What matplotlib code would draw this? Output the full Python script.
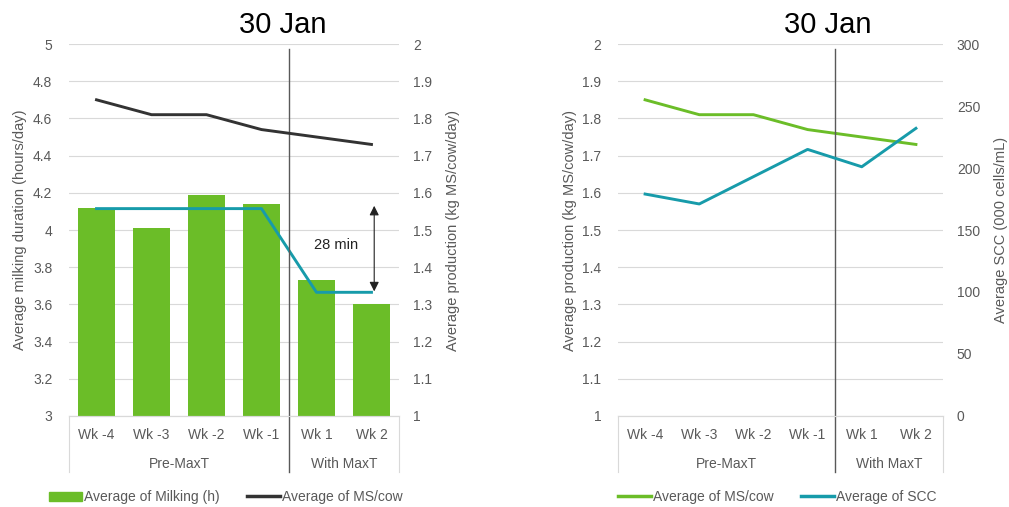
import numpy as np
import matplotlib
matplotlib.use("Agg")
import matplotlib.pyplot as plt
import matplotlib.transforms as mtransforms
from matplotlib.patches import Patch
from matplotlib.lines import Line2D

plt.rcParams['font.family'] = ['Liberation Sans', 'DejaVu Sans']

# data
weeks = ['Wk -4', 'Wk -3', 'Wk -2', 'Wk -1', 'Wk 1', 'Wk 2']
groups = ['Pre-MaxT', 'With MaxT']
milking_h = [4.12, 4.01, 4.19, 4.14, 3.73, 3.60]
avg_milking_h = [4.115, 4.115, 4.115, 4.115, 3.665, 3.665]
ms_per_cow = [1.85, 1.81, 1.81, 1.77, 1.75, 1.73]
scc = [179, 171, 193, 215, 201, 232]
title = '30 Jan'

GREEN = '#6bbd28'
TEAL = '#179baa'
DARK = '#333333'
GRAY = '#595959'
GRID = '#d9d9d9'
LW = 2.1

fig = plt.figure(figsize=(10.09, 5.07), dpi=100)
x = np.arange(len(weeks))


def style_axes(ax, ax2):
    ax.set_xlim(-0.5, 5.5)
    for a in (ax, ax2):
        for s in ('top', 'left', 'right'):
            a.spines[s].set_visible(False)
        a.spines['bottom'].set_color(GRID)
        a.tick_params(axis='y', length=0, labelsize=10, labelcolor=GRAY)
    ax.tick_params(axis='y', pad=12)
    ax2.tick_params(axis='y', pad=10)
    ax.yaxis.grid(True, color=GRID, lw=0.8)
    ax.set_axisbelow(True)
    ax.set_xticks(x)
    ax.set_xticklabels(weeks)
    ax.tick_params(axis='x', length=0, labelsize=10, labelcolor=GRAY, pad=9)
    trans = mtransforms.blended_transform_factory(ax.transData, ax.transAxes)
    # category box sides
    for xv in (-0.5, 5.5):
        ax.plot([xv, xv], [0, -0.15], color=GRID, lw=0.8, transform=trans, clip_on=False)
    # group labels
    ax.text(1.5, -0.128, groups[0], transform=trans, ha='center', va='center',
            fontsize=10, color=GRAY)
    ax.text(4.5, -0.128, groups[1], transform=trans, ha='center', va='center',
            fontsize=10, color=GRAY)
    # separator between pre and with MaxT
    ax2.plot([3.5, 3.5], [-0.15, 0.987], color=GRAY, lw=1.0, transform=trans,
             clip_on=False, zorder=1)


# left chart
ax1 = fig.add_axes([0.0684, 0.1795, 0.327, 0.7337])
ax1b = ax1.twinx()
ax1.bar(x, milking_h, width=0.67, color=GREEN, zorder=2)
ax1.set_ylim(3, 5)
ax1.set_yticks(np.arange(3, 5.01, 0.2))
ax1.set_yticklabels(['3', '3.2', '3.4', '3.6', '3.8', '4', '4.2', '4.4', '4.6', '4.8', '5'])
ax1b.set_ylim(1, 2)
ax1b.set_yticks(np.arange(1, 2.01, 0.1))
ax1b.set_yticklabels(['1', '1.1', '1.2', '1.3', '1.4', '1.5', '1.6', '1.7', '1.8', '1.9', '2'])
ax1b.plot(x, ms_per_cow, color=DARK, lw=LW, zorder=3)
style_axes(ax1, ax1b)
# average milking duration, drawn against the left axis scale
ax1.plot(x, avg_milking_h, color=TEAL, lw=LW, zorder=3)
ax1.set_ylabel('Average milking duration (hours/day)', fontsize=10.5, color=GRAY, labelpad=4)
ax1b.set_ylabel('Average production (kg MS/cow/day)', fontsize=10.5, color=GRAY,
                rotation=90, labelpad=10)
ax1.annotate('', xy=(5.05, 3.67), xytext=(5.05, 4.13),
             arrowprops=dict(arrowstyle='<|-|>', color='#222222', lw=0.8,
                             mutation_scale=14, shrinkA=0, shrinkB=0))
ax1.text(4.35, 3.92, '28 min', ha='center', va='center', fontsize=10.5, color='#222222')

# right chart
ax2 = fig.add_axes([0.6125, 0.1795, 0.3221, 0.7337])
ax2b = ax2.twinx()
ax2.set_ylim(1, 2)
ax2.set_yticks(np.arange(1, 2.01, 0.1))
ax2.set_yticklabels(['1', '1.1', '1.2', '1.3', '1.4', '1.5', '1.6', '1.7', '1.8', '1.9', '2'])
ax2b.set_ylim(0, 300)
ax2b.set_yticks(np.arange(0, 301, 50))
ax2.plot(x, ms_per_cow, color=GREEN, lw=LW, zorder=3)
ax2b.plot(x, scc, color=TEAL, lw=LW, zorder=3)
style_axes(ax2, ax2b)
ax2.set_ylabel('Average production (kg MS/cow/day)', fontsize=10.5, color=GRAY, labelpad=4)
ax2b.set_ylabel('Average SCC (000 cells/mL)', fontsize=10.5, color=GRAY,
                rotation=90, labelpad=10)

fig.text(283 / 1009, 1 - 25 / 507, title, ha='center', va='center', fontsize=21)
fig.text(828 / 1009, 1 - 25 / 507, title, ha='center', va='center', fontsize=21)

leg_kw = dict(frameon=False, ncol=2, fontsize=10, handlelength=2.4, handletextpad=0.1,
              columnspacing=2.0, borderpad=0, labelcolor=GRAY, loc='center left')
fig.legend([Patch(color=GREEN), Line2D([], [], color=DARK, lw=2.5)],
           ['Average of Milking (h)', 'Average of MS/cow'],
           bbox_to_anchor=(42 / 1009, 1 - 497 / 507), handleheight=0.6, **leg_kw)
fig.legend([Line2D([], [], color=GREEN, lw=2.5), Line2D([], [], color=TEAL, lw=2.5)],
           ['Average of MS/cow', 'Average of SCC'],
           bbox_to_anchor=(611 / 1009, 1 - 497 / 507), **leg_kw)

fig.savefig('out.png', dpi=100)
